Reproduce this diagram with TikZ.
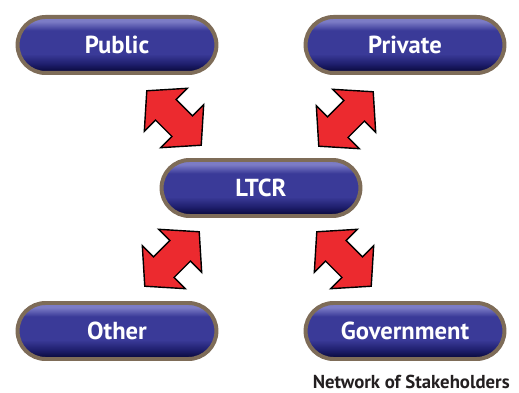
\documentclass[tikz,border=0pt]{standalone}
\usepackage{fontspec}
\setsansfont{PT Sans}
\usepackage{tikz}
\usetikzlibrary{positioning, shapes.misc, shadows}

\definecolor{btnrim}{HTML}{7E6C58}
\definecolor{btnhi}{HTML}{7C7CC6}
\definecolor{btnmid}{HTML}{3A3A98}
\definecolor{btnlow}{HTML}{1E1E6C}
\definecolor{btnbot}{HTML}{08083A}
\definecolor{arrred}{HTML}{EC2A2F}
\definecolor{captxt}{HTML}{231F20}

\pgfdeclareverticalshading{btnshade}{100bp}{color(0bp)=(btnbot); color(26bp)=(btnbot);
  color(33bp)=(btnlow); color(42bp)=(btnmid); color(63bp)=(btnmid); color(71bp)=(btnhi); color(100bp)=(btnhi)}

\begin{document}
\begin{tikzpicture}[x=0.03cm, y=0.03cm, semithick]
\tikzstyle{button}=[rounded rectangle, draw=btnrim, line width=3.4pt, minimum width=6.2cm,
                    minimum height=1.68cm, shading=btnshade, text=white,
                    drop shadow={shadow xshift=0pt, shadow yshift=-1.5pt, opacity=.3},
                    font=\sffamily\bfseries\fontsize{21pt}{24}\selectfont]
\tikzset{dblarrow/.pic={
    \draw[fill=arrred, draw=black, line width=1.2pt, line join=miter]
      (-38.5,0) -- (-11.5,30.5) -- (-11.5,14.5) -- (11.5,14.5) -- (11.5,30.5) -- (38.5,0)
      -- (11.5,-30.5) -- (11.5,-14.5) -- (-11.5,-14.5) -- (-11.5,-30.5) -- cycle;
  }}
\tikzset{caption/.style={text=captxt, inner sep=0pt, font=\sffamily\bfseries\fontsize{16pt}{18}\selectfont}}

  \useasboundingbox (0,0) rectangle (519,393);

        \node[button]                                              (LTCR)  at (261,205) {LTCR};
        \node[button, on grid, above left=4.29cm and 4.32cm of LTCR]  (pub)   {Public};
        \node[button, on grid, above right=4.29cm and 4.32cm of LTCR] (priv)  {Private};
        \node[button, on grid, below left=4.29cm and 4.32cm of LTCR]  (oth)   {Other};
        \node[button, on grid, below right=4.29cm and 4.32cm of LTCR] (gov)   {Government};

        % double arrows between the buttons
        \coordinate (a-pub)  at (174,275);
        \coordinate (a-priv) at (346,274);
        \coordinate (a-oth)  at (172,134);
        \coordinate (a-gov)  at (344,134);
        \pic[rotate=-45] at (a-pub)  {dblarrow};
        \pic[rotate=45]  at (a-priv) {dblarrow};
        \pic[rotate=45]  at (a-oth)  {dblarrow};
        \pic[rotate=-45] at (a-gov)  {dblarrow};

        \node[caption, anchor=base east] (cap) at (510,4) {Network of Stakeholders};

\end{tikzpicture}
\end{document}
